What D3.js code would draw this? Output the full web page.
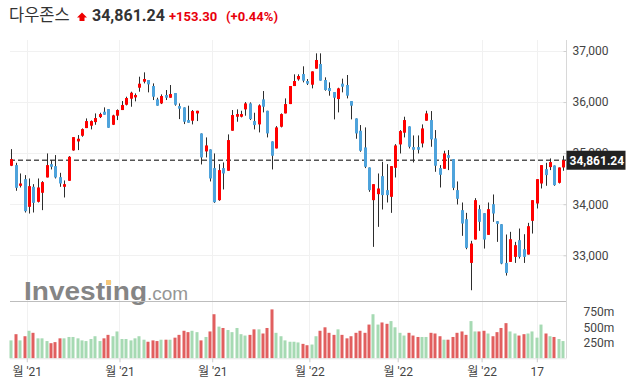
<!DOCTYPE html>
<html><head><meta charset="utf-8">
<script src="https://cdn.jsdelivr.net/npm/d3@7"></script>
<style>html,body{margin:0;padding:0;background:#fff;}svg{display:block;}</style>
</head><body>
<svg id="chart" width="631" height="387"></svg>
<script>
// ---- data (daily candles, oldest first) ----
const opens  = [34753,34766,34361,34491,33949,34341,34047,34224,34524,34785,34746,34530,34341,34459,35053,35230,35341,35491,35537,35608,35706,35811,35863,35556,35733,35844,35948,36066,36092,36281,36399,36432,36314,36053,35974,36138,36085,36177,35922,35896,35648,35635,35778,35386,35034,35073,34707,34080,34707,34655,35439,35713,35713,35857,35974,35628,35563,36053,35830,35230,35092,35517,35778,35961,36314,36445,36549,36412,36340,36654,36745,36432,36275,36196,36059,36360,36334,36020,35680,35439,35112,34720,34080,34197,34550,34276,34145,34713,35171,35400,35524,35119,35119,35190,35635,35648,35288,34707,34694,34962,34883,34276,33884,33707,32851,33309,33903,33825,33400,34001,33668,33609,32851,32871,32969,33296,33119,33015,33675,34014,34406,34687,34727,34759,34419,34720];
const highs  = [35079,34811,34602,34570,34504,34393,34504,34452,34994,34864,34962,34615,34465,34942,35314,35354,35484,35680,35641,35778,35791,35896,35863,35752,35857,36020,36105,36203,36170,36497,36582,36432,36366,36085,36151,36236,36334,36177,35974,35896,35929,35844,35830,35386,35308,35073,34994,34785,34818,35367,35844,35857,35830,36000,35994,35791,35955,36216,35830,35230,35530,35778,36072,36314,36543,36543,36700,36451,36601,36954,36954,36484,36386,36196,36281,36458,36530,36020,35680,35550,35504,34720,34393,34602,34831,34785,34746,35177,35452,35713,35524,35347,35347,35563,35830,35824,35452,34766,35047,35060,34883,34446,34034,33831,33283,34119,33982,33825,34034,34191,33668,33609,33407,33459,33263,33524,33413,33635,34080,34491,34766,34811,34896,34759,34720,34948];
const lows   = [34746,34263,34328,33838,33818,33838,34034,33884,34524,34681,34504,34341,34132,34459,35047,35060,35321,35491,35465,35556,35687,35752,35497,35550,35648,35844,35935,35909,36014,36203,36366,36190,36040,35929,35961,36040,36085,35929,35667,35569,35595,35563,35628,34779,34916,34446,34027,34067,34289,34655,35439,35615,35700,35733,35648,35465,35406,35798,35308,34681,35092,35504,35778,35961,36314,36419,36386,36334,36268,36654,36419,36223,36125,35661,35798,36190,36072,35661,35282,35027,34707,34243,33165,33557,33897,34034,33831,34524,34994,35308,35092,34818,34994,35112,35635,35125,34635,34328,34694,34668,34276,33995,33381,33119,32316,33309,33479,33132,33400,33655,33263,32825,32603,32871,32851,32936,32851,33015,33426,33916,34308,34361,34668,34361,34406,34655];
const closes = [34883,34321,34406,33864,34354,34027,34328,34433,34766,34733,34524,34406,34393,34929,35314,35282,35471,35628,35628,35687,35765,35752,35497,35739,35844,35942,36079,36183,36138,36360,36451,36347,36105,35929,36118,36085,36157,35948,35870,35615,35595,35824,35830,34916,35151,34504,34040,34668,34602,35256,35746,35765,35765,35974,35667,35550,35935,35909,35386,34949,35504,35765,35961,36314,36412,36510,36419,36360,36601,36824,36419,36236,36216,36085,36268,36301,36125,35929,35386,35047,34733,34276,34393,34308,34178,34178,34746,35151,35432,35648,35125,35066,35066,35484,35778,35269,34753,34576,34994,34909,34321,34106,33622,33146,33230,34080,33655,33309,33903,33818,33616,32838,32655,33315,33198,32969,32969,33570,34080,34491,34766,34570,34825,34374,34720,34861.24];
const volumes = [289,389,289,356,444,411,322,322,278,244,261,322,322,344,344,322,289,278,311,356,278,322,378,356,433,311,311,289,322,356,300,267,289,278,300,300,300,333,378,444,422,444,422,289,344,433,711,511,489,456,422,489,389,367,378,467,467,400,489,789,411,356,289,267,267,256,233,211,222,356,444,500,411,378,467,378,322,356,411,444,411,544,711,544,578,556,600,500,411,367,411,367,344,344,344,411,400,356,300,300,344,411,433,378,600,433,433,444,400,356,422,489,567,433,400,367,389,400,433,333,544,400,356,344,311,278];

const priceTicks = [33000,34000,35000,36000,37000];
const volTicks = [250,500,750];
const tickPos = [3.5,24.5,45.5,67.5,87.5,106.5,119];
const tickLabels = ["월 '21","월 '21","월 '21","월 '22","월 '22","월 '22","17"];

const title = "다우존스";
const lastPrice = "34,861.24";
const change = "+153.30";
const changePct = "(+0.44%)";

// ---- layout ----
const svg = d3.select("#chart");
const plotL = 10, plotR = 566.5, plotT = 40, mainB = 301, volB = 358.3;
const n = closes.length;
const x = d3.scaleLinear().domain([0, n-1]).range([11.3, 563.3]);
const y = d3.scaleLinear().domain([33000, 37000]).range([255.3, 51]);
const yv = d3.scaleLinear().domain([0, 750]).range([volB, 311.8]);
const font = "Roboto, 'Noto Sans CJK KR', 'Noto Sans', sans-serif";
const UP = "#ff0000", DOWN = "#4ea3dc", VUP = "#a6dab3", VDOWN = "#e15f5f";

// grid
const g = svg.append("g");
g.selectAll("line.hg").data(priceTicks).join("line")
  .attr("x1", plotL).attr("x2", plotR)
  .attr("y1", d => Math.round(y(d))+0.5).attr("y2", d => Math.round(y(d))+0.5)
  .attr("stroke", "#f1f1f1");
g.selectAll("line.vg").data(tickPos).join("line")
  .attr("x1", d => Math.round(x(d))+0.5).attr("x2", d => Math.round(x(d))+0.5)
  .attr("y1", plotT).attr("y2", volB)
  .attr("stroke", "#f1f1f1");

// watermark
const wm = svg.append("g");
wm.append("text").attr("x", 24).attr("y", 300)
  .attr("font-family", "Arial, 'Liberation Sans', sans-serif").attr("font-weight", "bold")
  .attr("font-size", 25).attr("fill", "#858585")
  .attr("textLength", 123).attr("lengthAdjust", "spacingAndGlyphs")
  .text("Investing");
wm.append("rect").attr("x", 106).attr("y", 280).attr("width", 5).attr("height", 5).attr("fill", "#f6c87a");
wm.append("text").attr("x", 147).attr("y", 300)
  .attr("font-family", "Arial, 'Liberation Sans', sans-serif")
  .attr("font-size", 19).attr("fill", "#969696")
  .text(".com");

// separator between panels
svg.append("line").attr("x1", plotL).attr("x2", plotR).attr("y1", mainB+0.5).attr("y2", mainB+0.5)
  .attr("stroke", "#bdbdbd");

// dashed last price line
svg.append("line").attr("x1", plotL).attr("x2", plotR)
  .attr("y1", y(closes[n-1])).attr("y2", y(closes[n-1]))
  .attr("stroke", "#555").attr("stroke-width", 1.5).attr("stroke-dasharray", "5,3");

// candles
const idx = d3.range(n);
const cg = svg.append("g");
cg.selectAll("line.wick").data(idx).join("line")
  .attr("x1", i => Math.round(x(i))+0.5).attr("x2", i => Math.round(x(i))+0.5)
  .attr("y1", i => y(highs[i])).attr("y2", i => y(lows[i]))
  .attr("stroke", "#2d2d2d").attr("stroke-width", 1);
cg.selectAll("rect.body").data(idx).join("rect")
  .attr("x", i => Math.round(x(i)) - 1.5 + 0.5)
  .attr("width", 3)
  .attr("y", i => y(Math.max(opens[i], closes[i])))
  .attr("height", i => Math.max(1.5, Math.abs(y(opens[i]) - y(closes[i]))))
  .attr("fill", i => closes[i] >= opens[i] ? UP : DOWN);

// volume bars
svg.append("g").selectAll("rect").data(idx).join("rect")
  .attr("x", i => Math.round(x(i)) - 1.5)
  .attr("width", 3)
  .attr("y", i => yv(volumes[i]))
  .attr("height", i => volB - yv(volumes[i]))
  .attr("fill", i => closes[i] >= opens[i] ? VUP : VDOWN);

// right axis line
svg.append("line").attr("x1", plotR).attr("x2", plotR).attr("y1", plotT).attr("y2", volB)
  .attr("stroke", "#d8d8d8");
// bottom axis line
svg.append("line").attr("x1", plotL).attr("x2", plotR).attr("y1", volB+0.5).attr("y2", volB+0.5)
  .attr("stroke", "#e6e6e6");

// price axis
const pa = svg.append("g").attr("transform", `translate(${plotR},0)`)
  .call(d3.axisRight(y).tickValues(priceTicks).tickSize(-3).tickPadding(6).tickFormat(d3.format(",")));
pa.select(".domain").remove();
pa.selectAll("line").attr("stroke", "#d0d0d0").attr("x1", -3).attr("x2", 0);
pa.selectAll("text").attr("font-family", font).attr("font-size", 12).attr("fill", "#444").attr("x", 6);

// volume axis
const va = svg.append("g").attr("transform", `translate(${plotR},0)`)
  .call(d3.axisRight(yv).tickValues(volTicks).tickSize(0).tickPadding(17).tickFormat(d => d + "m"));
va.select(".domain").remove();
va.selectAll("text").attr("font-family", font).attr("font-size", 12).attr("fill", "#444");

// x axis
const xa = svg.append("g").attr("transform", `translate(0,${volB})`)
  .call(d3.axisBottom(x).tickValues(tickPos).tickSize(4).tickPadding(5).tickFormat((d,i) => tickLabels[i]));
xa.select(".domain").remove();
xa.selectAll("line").attr("stroke", "#ccc");
xa.selectAll("text").attr("font-family", font).attr("font-size", 12).attr("fill", "#444");

// last price label
const lp = svg.append("g");
lp.append("rect").attr("x", plotR).attr("y", y(closes[n-1]) - 9.5).attr("width", 59).attr("height", 19).attr("fill", "#222");
lp.append("text").attr("x", plotR + 3).attr("y", y(closes[n-1]) + 4.5)
  .attr("font-family", font).attr("font-weight", "bold").attr("font-size", 12).attr("fill", "#fff")
  .text(lastPrice);

// header
const hd = svg.append("g");
hd.append("text").attr("x", 9).attr("y", 21).attr("font-family", "'Noto Sans CJK KR', sans-serif")
  .attr("font-size", 16.5).attr("fill", "#333").text(title);
hd.append("path").attr("d", "M82,12.5 L87,17.5 L84.5,17.5 L84.5,21 L79.5,21 L79.5,17.5 L77,17.5 Z").attr("fill", "#e00");
hd.append("text").attr("x", 92).attr("y", 21).attr("font-family", font).attr("font-weight", "bold")
  .attr("font-size", 16).attr("fill", "#333").text(lastPrice);
hd.append("text").attr("x", 169).attr("y", 21).attr("font-family", font).attr("font-weight", "bold")
  .attr("font-size", 13).attr("fill", "#e8000b").text(change);
hd.append("text").attr("x", 226).attr("y", 21).attr("font-family", font).attr("font-weight", "bold")
  .attr("font-size", 13).attr("fill", "#e8000b").text(changePct);
</script>
</body></html>
